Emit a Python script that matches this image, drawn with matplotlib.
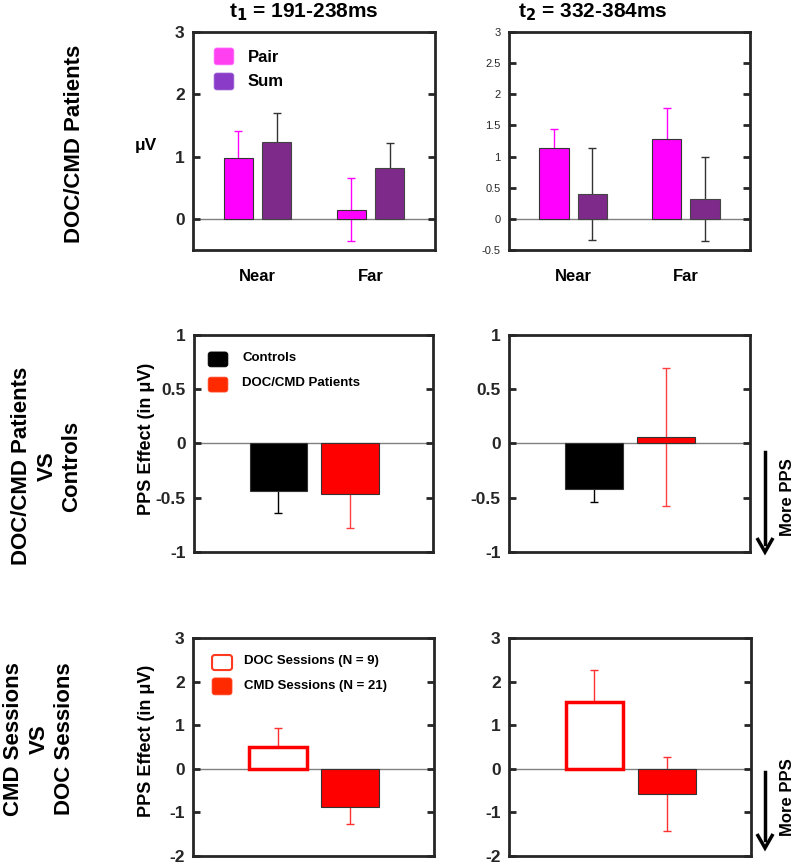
import matplotlib.pyplot as plt
from matplotlib.patches import FancyBboxPatch

plt.rcParams['font.family'] = ['Liberation Sans', 'DejaVu Sans']
plt.rcParams['font.weight'] = 'bold'
plt.rcParams['axes.labelweight'] = 'bold'
plt.rcParams['axes.unicode_minus'] = False

# values
conditions = ["Near", "Far"]
pair_t1 = [0.97, 0.15]
pair_t1_err = [0.44, 0.50]
sum_t1 = [1.23, 0.81]
sum_t1_err = [0.47, 0.41]
pair_t2 = [1.13, 1.28]
pair_t2_err = [0.32, 0.50]
sum_t2 = [0.40, 0.32]
sum_t2_err = [0.74, 0.67]

group_labels = ["Controls", "DOC/CMD Patients"]
group_t1 = [-0.44, -0.47]
group_t1_err = [0.20, 0.31]
group_t2 = [-0.42, 0.06]
group_t2_err = [0.12, 0.64]

session_labels = ["DOC Sessions (N = 9)", "CMD Sessions (N = 21)"]
session_t1 = [0.51, -0.885]
session_t1_err = [0.43, 0.385]
session_t2 = [1.54, -0.58]
session_t2_err = [0.72, 0.85]

titles = ["t$_1$ = 191-238ms", "t$_2$ = 332-384ms"]
row_labels = ["DOC/CMD Patients", "DOC/CMD Patients\nVS\nControls",
              "CMD Sessions\nVS\nDOC Sessions"]

PAIR = '#ff00ff'
SUM = '#7e2a8a'
RED = '#ff0000'
DARK = '#262626'

W, H = 794, 864
fig = plt.figure(figsize=(W / 100, H / 100), dpi=100)


def add_ax(x0, x1, y0, y1):
    return fig.add_axes([x0 / W, 1 - y1 / H, (x1 - x0) / W, (y1 - y0) / H])


def style(ax, ylim, yticks, small=False):
    ax.set_ylim(ylim)
    ax.set_yticks(yticks)
    ax.set_yticklabels(['{:g}'.format(t) for t in yticks])
    if small:
        ax.tick_params(axis='y', labelsize=8)
        for lab in ax.get_yticklabels():
            lab.set_fontweight('normal')
    else:
        ax.tick_params(axis='y', labelsize=12.5)
    ax.tick_params(axis='y', direction='in', left=True, right=True, length=5,
                   width=2, color=DARK, labelcolor=DARK, pad=6)
    ax.tick_params(axis='x', length=0, pad=14, labelsize=12)
    for s in ax.spines.values():
        s.set_linewidth(2)
        s.set_color(DARK)
    ax.axhline(0, color='#808080', lw=1, zorder=1.5)


def legend_box(ax, x0, x1, y0, y1, face, edge, lw=0.5):
    p = FancyBboxPatch((x0, y0), x1 - x0, y1 - y0, transform=ax.transAxes,
                       boxstyle='round,pad=0,rounding_size=0.012',
                       facecolor=face, edgecolor=edge, lw=lw, zorder=5)
    ax.add_patch(p)


# ---- row 1: pair vs sum ----
x_groups = [1, 2]
off, bw = 0.17, 0.26
for col, (pv, pe, sv, se) in enumerate([(pair_t1, pair_t1_err, sum_t1, sum_t1_err),
                                        (pair_t2, pair_t2_err, sum_t2, sum_t2_err)]):
    ax = add_ax(193, 435, 32, 250) if col == 0 else add_ax(509, 750, 32, 250)
    xp = [x - off for x in x_groups]
    xs = [x + off for x in x_groups]
    ax.errorbar(xp, pv, yerr=pe, fmt='none', ecolor=PAIR, elinewidth=1, capsize=3, zorder=1)
    ax.errorbar(xs, sv, yerr=se, fmt='none', ecolor='#333333', elinewidth=1, capsize=3, zorder=1)
    ax.bar(xp, pv, width=bw, color=PAIR, edgecolor='#333333', lw=0.8, zorder=2)
    ax.bar(xs, sv, width=bw, color=SUM, edgecolor='#444444', lw=0.8, zorder=2)
    ax.set_xlim(0.43, 2.57)
    ax.set_xticks(x_groups)
    ax.set_xticklabels(conditions)
    if col == 0:
        style(ax, (-0.5, 3), [0, 1, 2, 3])
        ax.set_ylabel('μV', rotation=0, fontsize=12.5, ha='center', va='center')
        ax.yaxis.set_label_coords(-0.195, 0.48)
        legend_box(ax, 0.087, 0.169, 0.849, 0.927, '#ff40f0', '#ff80ff')
        legend_box(ax, 0.087, 0.169, 0.734, 0.812, '#8a3cc8', '#a070d8')
        ax.text(0.227, 0.885, 'Pair', transform=ax.transAxes, fontsize=12, va='center')
        ax.text(0.227, 0.771, 'Sum', transform=ax.transAxes, fontsize=12, va='center')
    else:
        style(ax, (-0.5, 3), [-0.5, 0, 0.5, 1, 1.5, 2, 2.5, 3], small=True)

fig.text(304 / W, 1 - 12 / H, titles[0], fontsize=15, ha='center', va='center')
fig.text(593 / W, 1 - 12 / H, titles[1], fontsize=15, ha='center', va='center')

# ---- row 2: patients vs controls ----
xb = [1, 2]
for col, (vals, errs) in enumerate([(group_t1, group_t1_err), (group_t2, group_t2_err)]):
    ax = add_ax(194, 433, 335, 552) if col == 0 else add_ax(509, 750, 335, 552)
    ax.errorbar(xb[0], vals[0], yerr=errs[0], fmt='none', ecolor='black', elinewidth=1, capsize=3, zorder=1)
    ax.errorbar(xb[1], vals[1], yerr=errs[1], fmt='none', ecolor='#ff4040', elinewidth=1, capsize=3, zorder=1)
    ax.bar(xb, vals, width=0.8, color=['black', RED], edgecolor='#333333', lw=0.8, zorder=2)
    ax.set_xlim(-0.18, 3.16)
    ax.set_xticks([])
    style(ax, (-1, 1), [-1, -0.5, 0, 0.5, 1])
    if col == 0:
        ax.set_ylabel('PPS Effect (in μV)', fontsize=13, va='center')
        ax.yaxis.set_label_coords(-0.197, 0.52)
        legend_box(ax, 0.059, 0.142, 0.853, 0.922, 'black', 'black')
        legend_box(ax, 0.059, 0.142, 0.737, 0.806, '#ff2a00', '#ff5030')
        ax.text(0.201, 0.894, group_labels[0], transform=ax.transAxes, fontsize=9.5, va='center')
        ax.text(0.201, 0.779, group_labels[1], transform=ax.transAxes, fontsize=9.5, va='center')

# ---- row 3: CMD vs DOC sessions ----
for col, (vals, errs) in enumerate([(session_t1, session_t1_err), (session_t2, session_t2_err)]):
    ax = add_ax(193, 434, 638, 856) if col == 0 else add_ax(509, 751, 638, 856)
    ax.errorbar(xb, vals, yerr=errs, fmt='none', ecolor='#ff3030', elinewidth=1, capsize=3, zorder=1)
    ax.bar(xb[0], vals[0], width=0.8, color='white', edgecolor=RED, lw=2.5, zorder=2)
    ax.bar(xb[1], vals[1], width=0.8, color=RED, edgecolor='#333333', lw=0.8, zorder=2)
    ax.set_xlim(-0.18, 3.16)
    ax.set_xticks([])
    style(ax, (-2, 3), [-2, -1, 0, 1, 2, 3])
    if col == 0:
        ax.set_ylabel('PPS Effect (in μV)', fontsize=13, va='center')
        ax.yaxis.set_label_coords(-0.195, 0.53)
        legend_box(ax, 0.079, 0.162, 0.853, 0.922, 'white', '#ff3a20', lw=1.5)
        legend_box(ax, 0.079, 0.162, 0.739, 0.817, '#ff2a00', '#ff5030')
        ax.text(0.21, 0.894, session_labels[0], transform=ax.transAxes, fontsize=9.5, va='center')
        ax.text(0.21, 0.780, session_labels[1], transform=ax.transAxes, fontsize=9.5, va='center')

# row labels
fig.text(74 / W, 1 - 144 / H, row_labels[0], rotation=90, fontsize=16,
         ha='center', va='center')
fig.text(47 / W, 1 - 466 / H, row_labels[1], rotation=90, fontsize=16,
         ha='center', va='center', multialignment='center', linespacing=1.25)
fig.text(39 / W, 1 - 739 / H, row_labels[2], rotation=90, fontsize=16,
         ha='center', va='center', multialignment='center', linespacing=1.25)

# "More PPS" arrows
for y_top, y_bot, y_txt in [(452, 552, 497), (772, 848, 797)]:
    fig.add_artist(plt.Line2D([765 / W, 765 / W], [1 - y_top / H, 1 - (y_bot - 8) / H],
                              color='black', lw=2.5))
    fig.patches.append(plt.Polygon([[757 / W, 1 - (y_bot - 14) / H],
                                    [765 / W, 1 - y_bot / H],
                                    [773 / W, 1 - (y_bot - 14) / H]],
                                   closed=False, fill=False, edgecolor='black', lw=2.5,
                                   transform=fig.transFigure, figure=fig))
    fig.text(787 / W, 1 - y_txt / H, 'More PPS', rotation=90, fontsize=12,
             ha='center', va='center')

fig.savefig('out.png', dpi=100)
